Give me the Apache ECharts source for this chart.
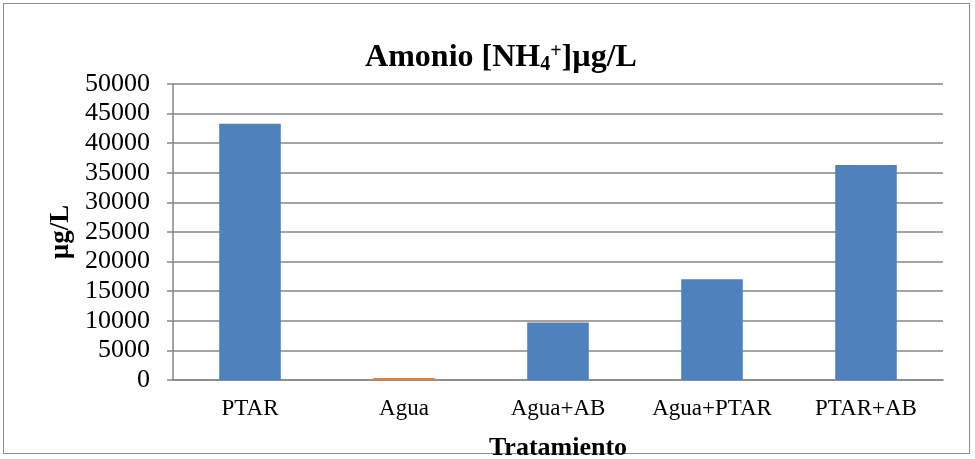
<!DOCTYPE html>
<html>
<head>
<meta charset="utf-8">
<script src="https://cdn.jsdelivr.net/npm/echarts@6/dist/echarts.min.js"></script>
<style>
html,body{margin:0;padding:0;background:#fff;}
#frame{position:absolute;left:3px;top:3px;width:967px;height:451px;border:1.5px solid #8c8c8c;box-sizing:border-box;}
#c{position:absolute;left:0;top:0;width:975px;height:459px;}
</style>
</head>
<body>
<div id="frame"></div>
<div id="c"></div>
<script>
const categories = ['PTAR', 'Agua', 'Agua+AB', 'Agua+PTAR', 'PTAR+AB'];
const values = [43300, 350, 9700, 17000, 36300];
const barColors = ['#4F81BD', '#E0803C', '#4F81BD', '#4F81BD', '#4F81BD'];
const yTicks = [0, 5000, 10000, 15000, 20000, 25000, 30000, 35000, 40000, 45000, 50000];

const chart = echarts.init(document.getElementById('c'), null, {renderer: 'canvas'});
const font = 'Liberation Serif, Times New Roman, serif';
chart.setOption({
  animation: false,
  backgroundColor: 'transparent',
  title: {
    text: '{m|Amonio [NH}{sub|4}{sup|+}{m|]µg/L}',
    left: 496,
    textAlign: 'center',
    top: 36,
    textStyle: {
      rich: {
        m: {fontFamily: font, fontWeight: 'bold', fontSize: 32, color: '#000'},
        sub: {fontFamily: font, fontWeight: 'bold', fontSize: 20, color: '#000', padding: [14, 0, 0, 0]},
        sup: {fontFamily: font, fontWeight: 'bold', fontSize: 20, color: '#000', padding: [0, 0, 12, 0]}
      }
    }
  },
  grid: {left: 173, right: 32, top: 84, bottom: 79, containLabel: false, outerBoundsMode: 'none'},
  xAxis: {
    type: 'category',
    data: categories,
    name: 'Tratamiento',
    nameLocation: 'middle',
    nameGap: 55,
    nameTextStyle: {fontFamily: font, fontWeight: 'bold', fontSize: 26, color: '#000'},
    axisLine: {lineStyle: {color: '#868686', width: 1.5}},
    axisTick: {show: false},
    axisLabel: {fontFamily: font, fontSize: 23, color: '#000', margin: 17, interval: 0, hideOverlap: false}
  },
  yAxis: {
    type: 'value',
    min: 0,
    max: 50000,
    interval: 5000,
    name: 'µg/L',
    nameLocation: 'middle',
    nameGap: 96,
    nameRotate: 90,
    nameTextStyle: {fontFamily: font, fontWeight: 'bold', fontSize: 27, color: '#000'},
    axisLine: {show: true, lineStyle: {color: '#868686', width: 1.5}},
    axisTick: {show: true, length: 6, lineStyle: {color: '#868686', width: 1.5}},
    axisLabel: {fontFamily: font, fontSize: 26, color: '#000', margin: 23,
      formatter: v => yTicks.includes(v) ? String(v) : ''},
    splitLine: {show: true, lineStyle: {color: '#868686', width: 1.5}}
  },
  series: [{
    type: 'bar',
    data: values.map((v, i) => ({value: v, itemStyle: {color: barColors[i]}})),
    barWidth: '40%'
  }]
});
</script>
</body>
</html>
